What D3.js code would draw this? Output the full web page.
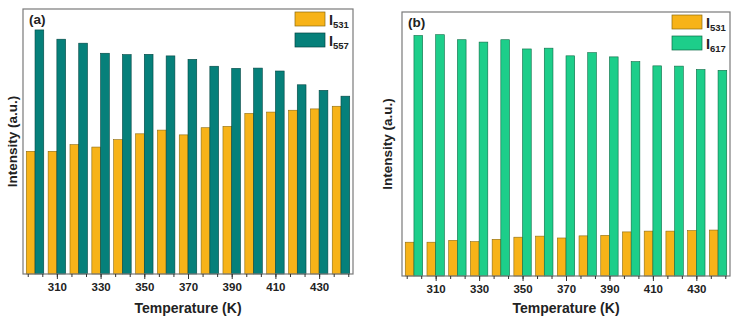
<!DOCTYPE html>
<html>
<head>
<meta charset="utf-8">
<script src="https://cdn.jsdelivr.net/npm/d3@7"></script>
<style>
  body { margin: 0; background: #fff; }
  svg { font-family: "Liberation Sans", Arial, sans-serif; font-weight: bold; }
</style>
</head>
<body>
<div id="container"></div>
<script>
// datos (intensidad relativa, 0-100 = alto del marco)
const temps = [300, 310, 320, 330, 340, 350, 360, 370, 380, 390, 400, 410, 420, 430, 440];
const tickLabels = [310, 330, 350, 370, 390, 410, 430];

const a531 = [46.3, 46.3, 48.8, 47.9, 50.7, 52.9, 54.3, 52.5, 55.2, 55.7, 60.6, 61.1, 61.8, 62.3, 63.3];
const a557 = [92.1, 88.6, 87.1, 83.3, 82.8, 82.9, 82.3, 81.0, 78.4, 77.6, 77.7, 76.6, 71.4, 69.3, 67.1];

const b531 = [12.8, 12.8, 13.5, 13.0, 13.9, 14.7, 15.1, 14.4, 15.2, 15.4, 16.7, 17.0, 17.0, 17.2, 17.4];
const b617 = [91.1, 91.4, 89.5, 88.6, 89.5, 86.0, 86.3, 83.4, 84.6, 83.0, 81.2, 79.6, 79.5, 78.2, 77.9];

const WIDTH = 734, HEIGHT = 320;

const svg = d3.select('#container').append('svg')
    .attr('width', WIDTH).attr('height', HEIGHT);

const ORANGE = '#F7B318', ORANGE_EDGE = '#8a6a10';

// un panel completo
const panel = (opt) => {
    const { left, right, top, bottom, s1, s2, c2, e2, name2, tag, ylabX } = opt;

    const x = d3.scaleLinear().domain([294.5, 445.5]).range([left, right]);
    const y = d3.scaleLinear().domain([0, 100]).range([bottom, top]);
    const bw = 4.0; // ancho de barra en K

    const g = svg.append('g');

    // barras
    const bars = (vals, off, fill, edge) => {
        g.append('g').selectAll('rect')
            .data(vals.map((v, i) => ({ t: temps[i], v })))
            .join('rect')
            .attr('x', d => x(d.t + off))
            .attr('width', d => x(d.t + off + bw) - x(d.t + off))
            .attr('y', d => y(d.v))
            .attr('height', d => y(0) - y(d.v))
            .attr('fill', fill)
            .attr('stroke', edge)
            .attr('stroke-width', 0.6);
    };
    bars(s1, -bw, ORANGE, ORANGE_EDGE);
    bars(s2, 0, c2, e2);

    // marco
    g.append('rect')
        .attr('x', left).attr('y', top)
        .attr('width', right - left).attr('height', bottom - top)
        .attr('fill', 'none').attr('stroke', '#7a7a7a').attr('stroke-width', 1.2);

    // eje x: mayores cada 20, dos menores entre ellos
    const minor = d3.range(0, 25).map(k => 290 + k * 20 / 3)
        .filter(t => t > 294.6 && t < 445.4);
    const xAxisMinor = d3.axisBottom(x).tickValues(minor).tickSize(3).tickFormat('');
    const xAxis = d3.axisBottom(x).tickValues(tickLabels).tickSize(5).tickPadding(4)
        .tickFormat(d3.format('d'));

    const ax1 = g.append('g').attr('transform', `translate(0,${bottom})`).call(xAxisMinor);
    const ax2 = g.append('g').attr('transform', `translate(0,${bottom})`).call(xAxis);
    [ax1, ax2].forEach(a => {
        a.select('.domain').remove();
        a.selectAll('line').attr('stroke', '#333').attr('stroke-width', 1);
    });
    ax2.selectAll('text')
        .attr('font-size', 11.5).attr('font-weight', 'bold')
        .attr('fill', '#222').attr('font-family', '"Liberation Sans", Arial, sans-serif');

    // titulos de ejes
    svg.append('text')
        .attr('x', (left + right) / 2).attr('y', 313)
        .attr('text-anchor', 'middle').attr('font-size', 14).attr('fill', '#222')
        .text('Temperature (K)');
    svg.append('text')
        .attr('transform', `translate(${ylabX},${(top + bottom) / 2}) rotate(-90)`)
        .attr('text-anchor', 'middle').attr('font-size', 13.5).attr('fill', '#222')
        .text('Intensity (a.u.)');

    // etiqueta del panel
    svg.append('text')
        .attr('x', left + 6).attr('y', top + 15)
        .attr('font-size', 13.5).attr('fill', '#222')
        .text(tag);

    // leyenda
    const lx = right - 58, ly = top + 3;
    const items = [
        { fill: ORANGE, edge: ORANGE_EDGE, sub: '531' },
        { fill: c2, edge: e2, sub: name2 }
    ];
    items.forEach((it, i) => {
        const yy = ly + i * 21;
        svg.append('rect')
            .attr('x', lx).attr('y', yy).attr('width', 30).attr('height', 14)
            .attr('fill', it.fill).attr('stroke', it.edge).attr('stroke-width', 0.7);
        const t = svg.append('text')
            .attr('x', lx + 34).attr('y', yy + 13)
            .attr('font-size', 14.5).attr('fill', '#222');
        t.append('tspan').text('I');
        t.append('tspan').attr('font-size', 9.5).attr('dy', 3).text(it.sub);
    });
};

panel({
    left: 23, right: 353, top: 9, bottom: 274,
    s1: a531, s2: a557, c2: '#06807A', e2: '#034542', name2: '557',
    tag: '(a)', ylabX: 17
});

panel({
    left: 402, right: 730, top: 12, bottom: 276,
    s1: b531, s2: b617, c2: '#1DCE8A', e2: '#0d6b45', name2: '617',
    tag: '(b)', ylabX: 392
});
</script>
</body>
</html>
